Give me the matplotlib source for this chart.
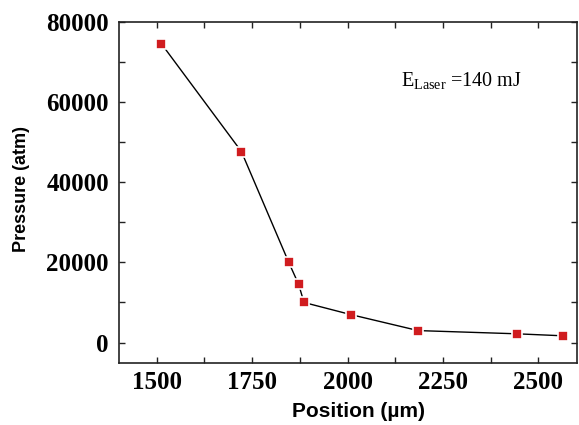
import numpy as np
import matplotlib
matplotlib.use("Agg")
import matplotlib.pyplot as plt
from matplotlib.ticker import MultipleLocator

plt.rcParams["mathtext.fontset"] = "custom"
plt.rcParams["mathtext.rm"] = "Liberation Serif"

# values
position = [1512, 1722, 1846, 1872, 1886, 2008, 2185, 2443, 2564]
pressure = [74500, 47600, 20000, 14500, 10000, 7000, 3000, 2200, 1700]

xticks = [1500, 1750, 2000, 2250, 2500]
yticks = [0, 20000, 40000, 60000, 80000]

fig = plt.figure(figsize=(5.79, 4.25), dpi=100)
ax = fig.add_axes([0.2047, 0.1466, 0.7910, 0.8028])

ax.plot(position, pressure, color="black", lw=1.0, zorder=2)
ax.plot(position, pressure, ls="none", marker="s", ms=7.5, mfc="#d01c1f",
        mec="white", mew=1.2, zorder=3)

ax.set_xlim(1400, 2600)
ax.set_ylim(-5000, 80000)
ax.set_xticks(xticks)
ax.set_yticks(yticks)
ax.xaxis.set_minor_locator(MultipleLocator(125))
ax.yaxis.set_minor_locator(MultipleLocator(10000))
ax.tick_params(which="both", direction="in", top=True, right=True,
               length=4, width=1, labelsize=18, colors="#222222")
ax.tick_params(axis="y", pad=7)
ax.tick_params(axis="x", pad=6)
for lab in ax.get_xticklabels() + ax.get_yticklabels():
    lab.set_fontfamily("Liberation Serif")
    lab.set_fontweight("bold")
    lab.set_color("black")
for sp in ax.spines.values():
    sp.set_linewidth(1.2)
    sp.set_color("#222222")

fig.text(359 / 579, 1 - 416.7 / 425, "Position (\u00b5m)", fontsize=15,
         fontweight="bold", fontfamily="Liberation Sans",
         ha="center", va="baseline")
fig.text(22 / 579, 1 - 188.6 / 425, "Pressure (atm)", fontsize=13,
         fontweight="bold", fontfamily="Liberation Sans", rotation=90,
         ha="center", va="center")

ax.text(2139, 63700, r"E$_{\mathrm{Laser}}$ =140 mJ", fontsize=14.5,
        fontfamily="Liberation Serif", va="baseline", ha="left")

fig.savefig("out.png", dpi=100)
